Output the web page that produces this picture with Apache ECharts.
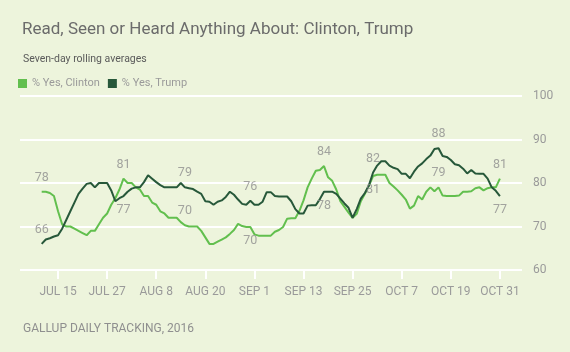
<!DOCTYPE html>
<html><head><meta charset="utf-8">
<script src="https://cdn.jsdelivr.net/npm/echarts@6/dist/echarts.min.js"></script>
<style>html,body{margin:0;padding:0;background:#edf4dc}#c{width:570px;height:352px}</style>
</head><body><div id="c"></div>
<script>
// Day offsets are counted from JUL 15; data starts JUL 11 (offset -4), ends OCT 31 (offset 108)
const startOffset = -4;
const tickDays = [0, 12, 24, 36, 48, 60, 72, 84, 96, 108];
const tickLabels = ['JUL 15', 'JUL 27', 'AUG 8', 'AUG 20', 'SEP 1', 'SEP 13', 'SEP 25', 'OCT 7', 'OCT 19', 'OCT 31'];
const yTicks = [60, 70, 80, 90, 100];

const clinton = [78,78,77.7,77,73.5,70.5,70,70,69.5,69,68.5,68,69,69,70.5,72,73,75,76.5,78.5,
  81,80,80,79,78.5,77,77,75.5,75,73.5,73,72,72,72,71,70.3,70,70,70,69,67.5,66,66,66.5,67,
  67.5,68.3,69.2,70.6,70.1,69.9,69.9,68.2,67.9,67.9,67.9,67.9,68.8,69.2,69.9,71.8,71.9,71.9,73.6,76,
  79,81,82.8,83,83.9,81.3,80.5,78.5,75.8,74.5,73.2,72,72.9,75.8,77.5,79.4,81.6,81.9,81.9,81.9,
  80,79.2,78.3,77.3,76.2,74.1,74.8,77,76.2,78,79,78.1,79,77.1,77,77,77,77.1,78,78,
  78.1,78.8,79,78.3,78.8,79,79,81];
const trump = [66,67,67.3,67.7,68,69.5,71.5,73.5,75.5,77.5,78.7,79.8,80,79,80,80,80,78.3,75.8,76.5,
  77,78,78.7,79,79,80.2,81.8,81,80.2,79.5,79,79,79,79,80,79,78.8,78.6,78,77.5,
  75.8,75.7,75,75.7,76,76.8,78,77.3,76.2,75.2,75,75.9,75,75,75.7,77.9,77.9,77,76.9,76.9,
  76.9,75.8,74,73,73,74.8,74.9,74.9,76.3,78,78,78,77.5,76.4,75.3,74.3,72,74,76.4,77.7,
  79.5,82.4,84,85,85,84,83.5,83.2,82.1,82.1,81.1,82.6,83.8,84.5,85.5,86.3,87.8,88,86.2,86,
  85.3,84.3,84.1,83.3,82.2,83,82.2,82.1,82.1,81,79,78.2,77];

// annotated points: [index, text, position]
const clintonLabels = [[0,'78','top'],[20,'81','top'],[35,'70','top'],[51,'70','bottom'],[69,'84','top'],[81,'81','bottom'],[97,'79','top'],[112,'81','top']];
const trumpLabels = [[0,'66','top'],[20,'77','bottom'],[35,'79','top'],[51,'76','top'],[69,'78','bottom'],[81,'82','top'],[97,'88','top'],[112,'77','bottom']];

const toXY = arr => arr.map((v, i) => [i + startOffset, v]);
const toLabelPts = (labels, arr) => labels.map(([i, t, pos]) => ({
  value: [i + startOffset, arr[i], t],
  label: {position: pos}
}));

const grey = '#8f8f8f';
const FONT = 'Roboto';
const chart = echarts.init(document.getElementById('c'));
chart.setOption({
  backgroundColor: '#edf4dc',
  animation: false,
  textStyle: {fontFamily: FONT},
  title: [
    {text: 'Read, Seen or Heard Anything About: Clinton, Trump', left: 17, top: 16,
      textStyle: {fontSize: 17, fontWeight: 'normal', color: '#6b6b6b', fontFamily: FONT}},
    {text: 'Seven-day rolling averages', left: 18, top: 49,
      textStyle: {fontSize: 10.5, fontWeight: 'normal', color: '#5a5a5a', fontFamily: FONT}},
    {text: 'GALLUP DAILY TRACKING, 2016', left: 18, top: 318,
      textStyle: {fontSize: 12, fontWeight: 'normal', color: '#8f8f8f', fontFamily: FONT}}
  ],
  legend: {
    data: ['% Yes, Clinton', '% Yes, Trump'],
    left: 13, top: 73, icon: 'rect', itemWidth: 9, itemHeight: 9, itemGap: 8,
    textStyle: {color: '#9a9a9a', fontSize: 11, fontFamily: FONT}
  },
  grid: {left: 20, right: 48, top: 96, bottom: 82, containLabel: false},
  xAxis: {
    type: 'value', min: -9.3, max: 113.4,
    axisLine: {show: false},
    splitLine: {show: false},
    axisTick: {show: true, customValues: tickDays, length: 9, lineStyle: {color: '#ffffff', width: 2}},
    axisLabel: {customValues: tickDays, color: '#9a9a9a', fontSize: 12, margin: 16, fontFamily: FONT,
      formatter: v => tickLabels[tickDays.indexOf(v)] || ''}
  },
  yAxis: {
    type: 'value', position: 'right', min: 60, max: 100, interval: 10,
    axisLine: {show: false}, axisTick: {show: false},
    splitLine: {lineStyle: {color: '#ffffff', width: 2}},
    axisLabel: {color: '#9a9a9a', fontSize: 12, margin: 11, fontFamily: FONT}
  },
  series: [
    {name: '% Yes, Clinton', type: 'line', data: toXY(clinton), showSymbol: false, symbol: 'none',
      lineStyle: {color: '#62bf4e', width: 2}, itemStyle: {color: '#62bf4e'}, z: 2},
    {name: '% Yes, Trump', type: 'line', data: toXY(trump), showSymbol: false, symbol: 'none',
      lineStyle: {color: '#27583a', width: 2}, itemStyle: {color: '#27583a'}, z: 3},
    {name: 'clintonLabels', type: 'scatter', data: toLabelPts(clintonLabels, clinton), symbolSize: 1,
      itemStyle: {color: 'rgba(0,0,0,0)'}, silent: true, z: 4,
      label: {show: true, distance: 7, color: grey, fontSize: 12.5, fontFamily: FONT, formatter: p => p.value[2]}},
    {name: 'trumpLabels', type: 'scatter', data: toLabelPts(trumpLabels, trump), symbolSize: 1,
      itemStyle: {color: 'rgba(0,0,0,0)'}, silent: true, z: 4,
      label: {show: true, distance: 7, color: grey, fontSize: 12.5, fontFamily: FONT, formatter: p => p.value[2]}}
  ]
});
</script></body></html>
